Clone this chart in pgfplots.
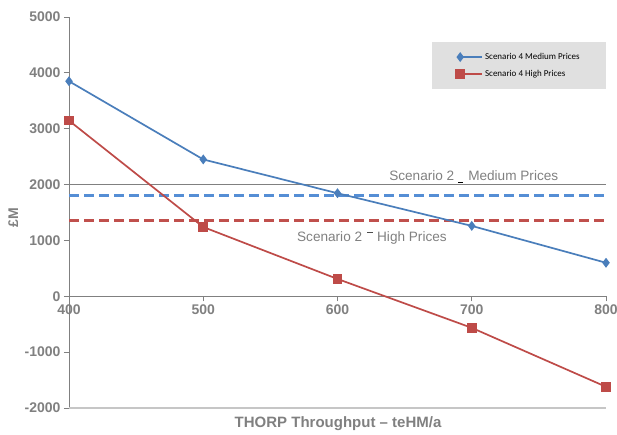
\documentclass[border=0pt]{standalone}
\usepackage{pgfplots}
\pgfplotsset{compat=1.18}
\usepackage{fontspec}
\setmainfont{Liberation Sans}
\newfontfamily\legfont{Carlito}
\definecolor{mblue}{HTML}{4A7EBB}
\definecolor{hred}{HTML}{BE4B48}
\definecolor{dblue}{HTML}{558ED5}
\definecolor{dred}{HTML}{C0504D}
\definecolor{txtgray}{HTML}{808080}
\definecolor{leggray}{HTML}{E0E0E0}
\begin{document}
\begin{tikzpicture}
\useasboundingbox (-69pt,-27pt) rectangle (548pt,408pt);
\begin{axis}[
  at={(0,0)}, anchor=south west, scale only axis, width=537pt, height=391pt,
  xmin=400, xmax=800, ymin=-2000, ymax=5000,
  axis x line=middle, axis y line=left,
  axis line style={-, draw=txtgray, line width=0.8pt},
  hide obscured x ticks=false, hide obscured y ticks=false,
  xtick={400,500,...,800}, ytick={-2000,-1000,...,5000},
  tick style={draw=txtgray, line width=0.8pt}, major tick length=5pt, tick align=outside,
  ticklabel style={font=\fontsize{14}{14}\selectfont\bfseries, text=txtgray},
  /pgf/number format/assume math mode=true, /pgf/number format/1000 sep={},
  xlabel={THORP Throughput -- teHM/a},
  xlabel style={at={(axis description cs:0.501,-0.041)}, anchor=center, font=\fontsize{15}{15}\selectfont\bfseries, text=txtgray},
  ylabel={£M},
  ylabel style={at={(axis description cs:-0.104,0.486)}, anchor=center, font=\fontsize{14}{14}\selectfont\bfseries, text=txtgray},
  legend style={at={(axis description cs:0.676,0.936)}, anchor=north west, fill=leggray, draw=none,
    font=\legfont\fontsize{9}{10}\selectfont, inner xsep=24pt, inner ysep=9pt, row sep=5pt},
  legend cell align=left,
  legend image code/.code={\draw[#1, mark indices={1}] plot coordinates {(0pt,0pt) (11pt,0pt) (22pt,0pt)};},
  clip=false,
]
\draw[txtgray, line width=0.6pt] (axis cs:400,2000) -- (axis cs:800,2000);
\draw[gray!45, line width=1.2pt] (axis cs:400,-2000) -- (axis cs:800,-2000);
\addplot[dblue, line width=3pt, dash pattern=on 10pt off 5pt, forget plot] coordinates {(400,1800) (800,1800)};
\addplot[dred, line width=3pt, dash pattern=on 10pt off 5pt, forget plot] coordinates {(400,1350) (800,1350)};
\addplot[mblue, line width=1.7pt, mark=diamond*, mark size=3.6pt, mark options={fill=mblue, solid}] coordinates {
  (400,3850) (500,2450) (600,1845) (700,1260) (800,600)};
\addlegendentry{Scenario 4 Medium Prices}
\addplot[hred, line width=1.7pt, mark=square*, mark size=4pt, mark options={fill=hred, solid}] coordinates {
  (400,3145) (500,1240) (600,310) (700,-565) (800,-1620)};
\addlegendentry{Scenario 4 High Prices}
\node[anchor=base west, inner sep=0pt, font=\fontsize{13.6}{14}\selectfont, text=txtgray] at (axis cs:638.4,2068)
  {Scenario 2\hspace{4pt}\textcolor{black}{\rule[-2pt]{5pt}{0.9pt}}\hspace{5pt}Medium Prices};
\node[anchor=base west, inner sep=0pt, font=\fontsize{13.6}{14}\selectfont, text=txtgray] at (axis cs:569.8,982)
  {Scenario 2\hspace{5pt}\textcolor{black!70}{\rule[9pt]{6pt}{0.8pt}}\hspace{4pt}High Prices};
\end{axis}
\end{tikzpicture}
\end{document}
